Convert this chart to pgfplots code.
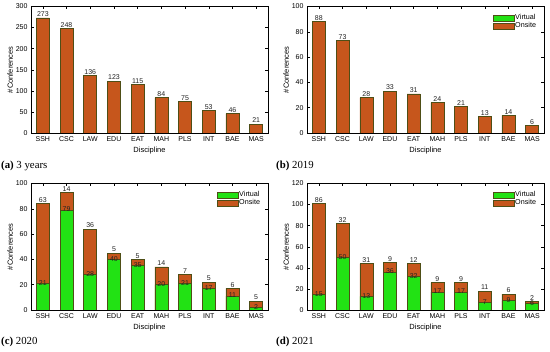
\documentclass[border=0pt]{standalone}
\usepackage{pgfplots}
\pgfplotsset{compat=1.18}
\usepackage{pgfplotstable}
\usepackage{fontspec}
\setmainfont{Liberation Serif}
\newfontfamily\chartfont{Liberation Sans}

\definecolor{virt}{RGB}{34,226,20}
\definecolor{ons}{RGB}{198,86,28}
\definecolor{edgec}{RGB}{78,78,22}
\definecolor{labc}{RGB}{35,35,35}

\pgfplotstableread{
x virt onsite total
0 0 273 273
1 0 248 248
2 0 136 136
3 0 123 123
4 0 115 115
5 0 84 84
6 0 75 75
7 0 53 53
8 0 46 46
9 0 21 21
}\dataA

\pgfplotstableread{
x virt onsite total
0 0 88 88
1 0 73 73
2 0 28 28
3 0 33 33
4 0 31 31
5 0 24 24
6 0 21 21
7 0 13 13
8 0 14 14
9 0 6 6
}\dataB

\pgfplotstableread{
x virt onsite total
0 21 63 84
1 79 14 93
2 28 36 64
3 40 5 45
4 35 5 40
5 20 14 34
6 21 7 28
7 17 5 22
8 11 6 17
9 2 5 7
}\dataC

\pgfplotstableread{
x virt onsite total
0 15 86 101
1 50 32 82
2 13 31 44
3 36 9 45
4 32 12 44
5 17 9 26
6 17 9 26
7 7 11 18
8 9 6 15
9 6 2 8
}\dataD

\pgfplotsset{
  panel/.style={
    width=237pt, height=126.5pt, scale only axis,
    xmin=-0.5, xmax=9.5, ymin=0,
    xtick={0,...,9},
    xticklabels={SSH,CSC,LAW,EDU,EAT,MAH,PLS,INT,BAE,MAS},
    tick align=inside, major tick length=3pt,
    tick style={black, line width=0.4pt},
    axis line style={line width=0.5pt},
    xlabel={Discipline}, ylabel={\#Conferences},
    /pgf/number format/assume math mode=true,
    ticklabel style={font=\chartfont\fontsize{7}{8}\selectfont},
    label style={font=\chartfont\fontsize{7.5}{9}\selectfont},
    xlabel style={at={(axis description cs:0.5,-0.142)}, anchor=center},
    ylabel style={at={(axis description cs:-0.088,0.5)}, anchor=center},
    legend style={draw=none, fill=none, at={(0.985,0.962)}, anchor=north east,
      font=\chartfont\fontsize{7.2}{8}\selectfont, row sep=-1.2pt,
      nodes={inner sep=1.2pt}},
    legend cell align=left,
    legend image code/.code={\draw[#1] (0pt,-3pt) rectangle (21pt,3pt);},
  },
  onsbar/.style={ybar, bar width=13pt, bar shift=0pt, fill=ons, draw=edgec,
    line width=0.5pt, forget plot,
    nodes near coords, point meta=explicit symbolic,
    nodes near coords style={anchor=south, inner sep=1pt, text=labc,
      font=\chartfont\fontsize{7}{8}\selectfont}},
  virtbar/.style={ybar, bar width=13pt, bar shift=0pt, fill=virt, draw=edgec,
    line width=0.5pt, forget plot,
    nodes near coords, point meta=explicit symbolic,
    nodes near coords style={anchor=center, inner sep=1pt, yshift=0.5pt, text=labc,
      font=\chartfont\fontsize{7}{8}\selectfont}},
}

\begin{document}
\begin{tikzpicture}
\useasboundingbox (0,0) rectangle (550pt,-352pt);

% (a)
\begin{axis}[panel, at={(31pt,-133pt)}, anchor=south west,
  ymax=300, ytick={0,50,...,300}]
\addplot[onsbar] table[x=x, y=total, meta=onsite]{\dataA};
\end{axis}

% (b)
\begin{axis}[panel, at={(307pt,-133pt)}, anchor=south west,
  ymax=100, ytick={0,20,...,100}]
\addlegendimage{fill=virt, draw=edgec, line width=0.5pt}
\addlegendentry{Virtual}
\addlegendimage{fill=ons, draw=edgec, line width=0.5pt}
\addlegendentry{Onsite}
\addplot[onsbar] table[x=x, y=total, meta=onsite]{\dataB};
\end{axis}

% (c)
\begin{axis}[panel, at={(31pt,-310pt)}, anchor=south west,
  ymax=100, ytick={0,20,...,100}]
\addlegendimage{fill=virt, draw=edgec, line width=0.5pt}
\addlegendentry{Virtual}
\addlegendimage{fill=ons, draw=edgec, line width=0.5pt}
\addlegendentry{Onsite}
\addplot[onsbar] table[x=x, y=total, meta=onsite]{\dataC};
\addplot[virtbar] table[x=x, y=virt, meta=virt]{\dataC};
\end{axis}

% (d)
\begin{axis}[panel, at={(307pt,-310pt)}, anchor=south west,
  ymax=120, ytick={0,20,...,120}]
\addlegendimage{fill=virt, draw=edgec, line width=0.5pt}
\addlegendentry{Virtual}
\addlegendimage{fill=ons, draw=edgec, line width=0.5pt}
\addlegendentry{Onsite}
\addplot[onsbar] table[x=x, y=total, meta=onsite]{\dataD};
\addplot[virtbar] table[x=x, y=virt, meta=virt]{\dataD};
\end{axis}

\node[anchor=west, inner sep=0pt, font=\fontsize{10.8}{12}\selectfont] at (1pt,-166pt) {\textbf{(a)} 3 years};
\node[anchor=west, inner sep=0pt, font=\fontsize{10.8}{12}\selectfont] at (276pt,-166pt) {\textbf{(b)} 2019};
\node[anchor=west, inner sep=0pt, font=\fontsize{10.8}{12}\selectfont] at (1pt,-342pt) {\textbf{(c)} 2020};
\node[anchor=west, inner sep=0pt, font=\fontsize{10.8}{12}\selectfont] at (276pt,-342pt) {\textbf{(d)} 2021};
\end{tikzpicture}
\end{document}
